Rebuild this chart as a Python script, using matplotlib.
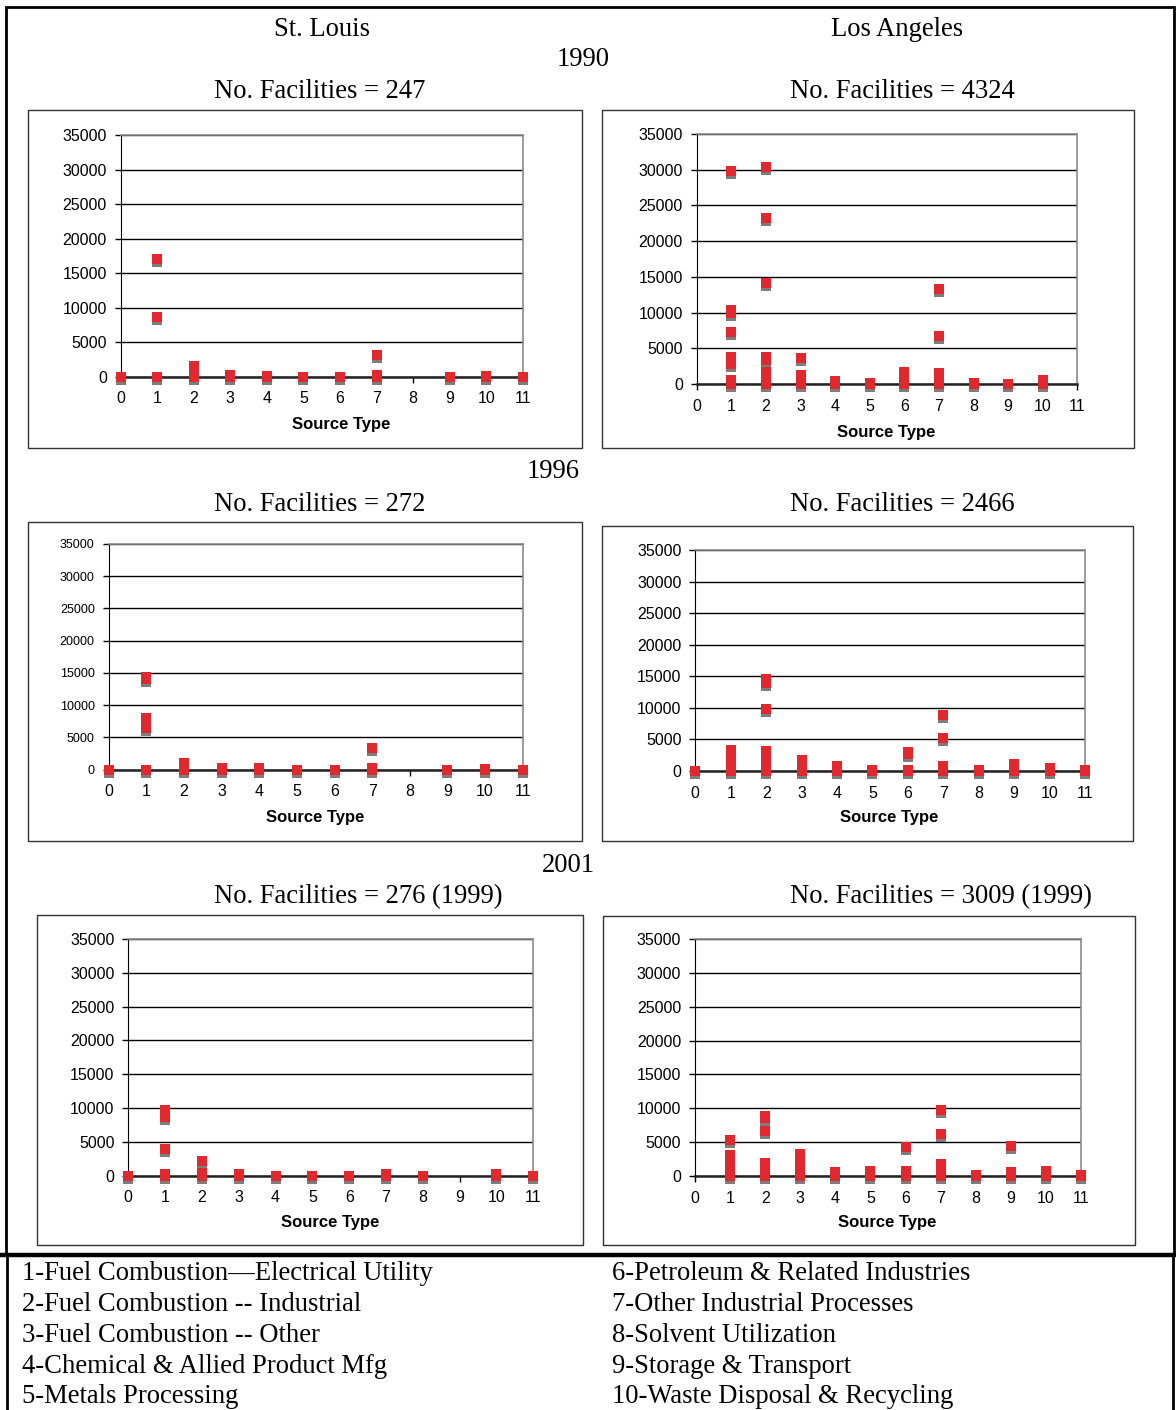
import matplotlib
matplotlib.use("Agg")
import matplotlib.pyplot as plt
from matplotlib.patches import Rectangle
from matplotlib.transforms import offset_copy

W, H = 1176, 1410

# ---- data: (source type, emission) per panel ----
stl_1990_x = [0, 1, 1, 1, 2, 2, 2, 2, 2, 3, 3, 4, 4, 5, 6, 7, 7, 7, 9, 10, 10, 11]
stl_1990_y = [0, 17100, 8600, 0, 0, 300, 700, 1100, 1500, 0, 200, 0, 150, 0, 0, 3100, 200, 0, 0, 0, 100, 0]

la_1990_x = [1, 1, 1, 1, 1, 1, 1, 1, 1,
             2, 2, 2, 2, 2, 2, 2, 2, 2, 2,
             3, 3, 3, 3, 3, 4, 4, 4, 5, 5,
             6, 6, 6, 6, 6, 7, 7, 7, 7, 7, 7,
             8, 8, 9, 10, 10, 10]
la_1990_y = [29800, 10400, 10000, 7300, 3800, 3300, 2800, 500, 0,
             30400, 23300, 14200, 3800, 3300, 1700, 1200, 700, 200, 0,
             3600, 1200, 800, 400, 0, 400, 100, 0, 100, 0,
             1700, 1400, 500, 100, 0, 13300, 6700, 1500, 1000, 300, 0,
             100, 0, 0, 600, 300, 0]

stl_1996_x = [0, 1, 1, 1, 1, 1, 2, 2, 2, 3, 3, 4, 4, 5, 6, 7, 7, 7, 9, 10, 10, 11]
stl_1996_y = [0, 14300, 14000, 8000, 6500, 0, 1000, 500, 0, 200, 0, 200, 0, 0, 0, 3300, 200, 0, 0, 100, 0, 0]

la_1996_x = [0, 1, 1, 1, 1, 1, 1, 1, 1,
             2, 2, 2, 2, 2, 2, 2, 2, 2, 2,
             3, 3, 3, 3, 3, 4, 4, 4, 5, 5,
             6, 6, 6, 6, 7, 7, 7, 7, 7,
             8, 8, 9, 9, 9, 9, 10, 10, 10, 11, 11]
la_1996_y = [0, 3400, 2900, 2400, 1900, 1400, 900, 400, 0,
             14500, 14000, 9800, 3100, 2600, 2000, 1500, 1000, 500, 0,
             1800, 1300, 800, 300, 0, 800, 300, 0, 200, 0,
             3000, 2700, 200, 0, 8800, 5300, 800, 300, 0,
             100, 0, 1100, 600, 100, 0, 500, 100, 0, 100, 0]

stl_2001_x = [0, 1, 1, 1, 1, 1, 1, 2, 2, 2, 2, 3, 3, 4, 5, 6, 7, 7, 7, 8, 10, 10, 11]
stl_2001_y = [0, 9700, 9300, 8700, 4000, 300, 0, 2100, 400, 100, 0, 200, 0, 0, 0, 0, 300, 100, 0, 0, 300, 0, 0]

la_2001_x = [1, 1, 1, 1, 1, 1, 1, 1, 1,
             2, 2, 2, 2, 2, 2, 2, 2,
             3, 3, 3, 3, 3, 3, 4, 4, 4, 5, 5, 5,
             6, 6, 6, 6, 7, 7, 7, 7, 7, 7, 7,
             8, 8, 9, 9, 9, 9, 10, 10, 10, 11, 11]
la_2001_y = [5300, 3100, 2600, 2100, 1600, 1100, 600, 100, 0,
             8900, 8500, 6700, 1900, 1400, 900, 400, 0,
             3200, 1800, 1300, 800, 300, 0, 600, 200, 0, 700, 200, 0,
             4300, 800, 300, 0, 9800, 6200, 1700, 1200, 700, 200, 0,
             200, 0, 4400, 600, 100, 0, 700, 200, 0, 100, 0]

cities = ["St. Louis", "Los Angeles"]
years = ["1990", "1996", "2001"]
facilities = [["No. Facilities = 247", "No. Facilities = 4324"],
              ["No. Facilities = 272", "No. Facilities = 2466"],
              ["No. Facilities = 276 (1999)", "No. Facilities = 3009 (1999)"]]
source_types = ["1-Fuel Combustion\u2014Electrical Utility", "2-Fuel Combustion -- Industrial",
                "3-Fuel Combustion -- Other", "4-Chemical & Allied Product Mfg",
                "5-Metals Processing", "6-Petroleum & Related Industries",
                "7-Other Industrial Processes", "8-Solvent Utilization",
                "9-Storage & Transport", "10-Waste Disposal & Recycling"]

panels = [(stl_1990_x, stl_1990_y), (la_1990_x, la_1990_y),
          (stl_1996_x, stl_1996_y), (la_1996_x, la_1996_y),
          (stl_2001_x, stl_2001_y), (la_2001_x, la_2001_y)]

# pixel layout: axes (left, top, right, zero-line), box (x0, y0, x1, y1), xlabel pos, ytick size
axes_px = [(120.7, 135, 522.7, 376.7), (696.7, 134, 1077.3, 384),
           (108.7, 544, 522.7, 769.7), (695.3, 550, 1085, 771),
           (128.3, 939, 533.3, 1175.7), (695, 939, 1081, 1176)]
boxes_px = [(28, 110, 582, 448), (602, 110, 1134, 448),
            (28, 522, 582, 841), (602, 526, 1133, 841),
            (37, 915, 583, 1245), (603, 916, 1135, 1245)]
xlabel_px = [(341, 424), (886, 432), (315, 818), (889, 818), (330, 1222), (887, 1222)]
ytick_size = [11.5, 11.5, 9, 11.5, 11.5, 11.5]

serif = "Liberation Serif"
sans = "Liberation Sans"
big = 19.2

fig = plt.figure(figsize=(W / 100, H / 100), dpi=100)


def fx(x):
    return x / W


def fy(y):
    return 1 - y / H


def frame(x0, y0, x1, y1, lw, color="black"):
    fig.add_artist(Rectangle((fx(x0), fy(y1)), fx(x1) - fx(x0), fy(y0) - fy(y1),
                             transform=fig.transFigure, fill=False, lw=lw, ec=color))


# outer frames
frame(6, 7, 1174, 1255, 2)
fig.add_artist(plt.Line2D([0, fx(1175)], [fy(1255), fy(1255)], transform=fig.transFigure, lw=3.2, color="black"))
fig.add_artist(plt.Line2D([fx(7), fx(7)], [fy(1255), 0], transform=fig.transFigure, lw=2, color="black"))
fig.add_artist(plt.Line2D([fx(1173), fx(1173)], [fy(1255), 0], transform=fig.transFigure, lw=2, color="black"))

# headings
fig.text(fx(322), fy(30), cities[0], fontsize=big, family=serif, ha="center", va="center")
fig.text(fx(897), fy(30), cities[1], fontsize=big, family=serif, ha="center", va="center")
for yr, (px, py) in zip(years, [(583, 59), (553, 472), (568, 865)]):
    fig.text(fx(px), fy(py), yr, fontsize=big, family=serif, ha="center", va="center")
for row, py in zip(facilities, [91, 504, 897]):
    fig.text(fx(214), fy(py), row[0], fontsize=big, family=serif, ha="left", va="center")
    fig.text(fx(790), fy(py), row[1], fontsize=big, family=serif, ha="left", va="center")

for i, (xs, ys) in enumerate(panels):
    frame(*boxes_px[i], lw=1, color="#333333")
    l, t, r, z = axes_px[i]
    ax = fig.add_axes([fx(l), fy(z), fx(r) - fx(l), fy(t) - fy(z)])
    ax.set_xlim(0, 11)
    ax.set_ylim(0, 35000)
    ax.set_xticks(range(12))
    ax.set_yticks(range(0, 35001, 5000))
    ax.yaxis.grid(True, color="black", lw=1)
    ax.set_axisbelow(True)
    for s in ["top", "right"]:
        ax.spines[s].set_color("#8a8a8a")
        ax.spines[s].set_linewidth(1.2)
    ax.spines["left"].set_color("black")
    ax.spines["bottom"].set_color("#222222")
    ax.spines["bottom"].set_linewidth(1.8)
    ax.tick_params(axis="x", length=4, width=1, pad=6.5, labelsize=11.5)
    ax.tick_params(axis="y", length=4, width=1, pad=6, labelsize=ytick_size[i])
    for lab in ax.get_xticklabels() + ax.get_yticklabels():
        lab.set_family(sans)
    shadow = offset_copy(ax.transData, fig=fig, x=0, y=-3, units="dots")
    ax.scatter(xs, ys, marker="s", s=58, color="#7d7d7d", lw=0, transform=shadow, clip_on=False, zorder=3)
    ax.scatter(xs, ys, marker="s", s=58, color="#e0282f", lw=0, clip_on=False, zorder=4)
    px, py = xlabel_px[i]
    fig.text(fx(px), fy(py), "Source Type", fontsize=12, family=sans, weight="bold",
             ha="center", va="center")

# source-type key
for k, label in enumerate(source_types):
    col, row = divmod(k, 5)
    fig.text(fx(22 if col == 0 else 612), fy(1274 + row * 30.7), label, fontsize=big,
             family=serif, ha="left", va="center")

fig.savefig("out.png", dpi=100)
